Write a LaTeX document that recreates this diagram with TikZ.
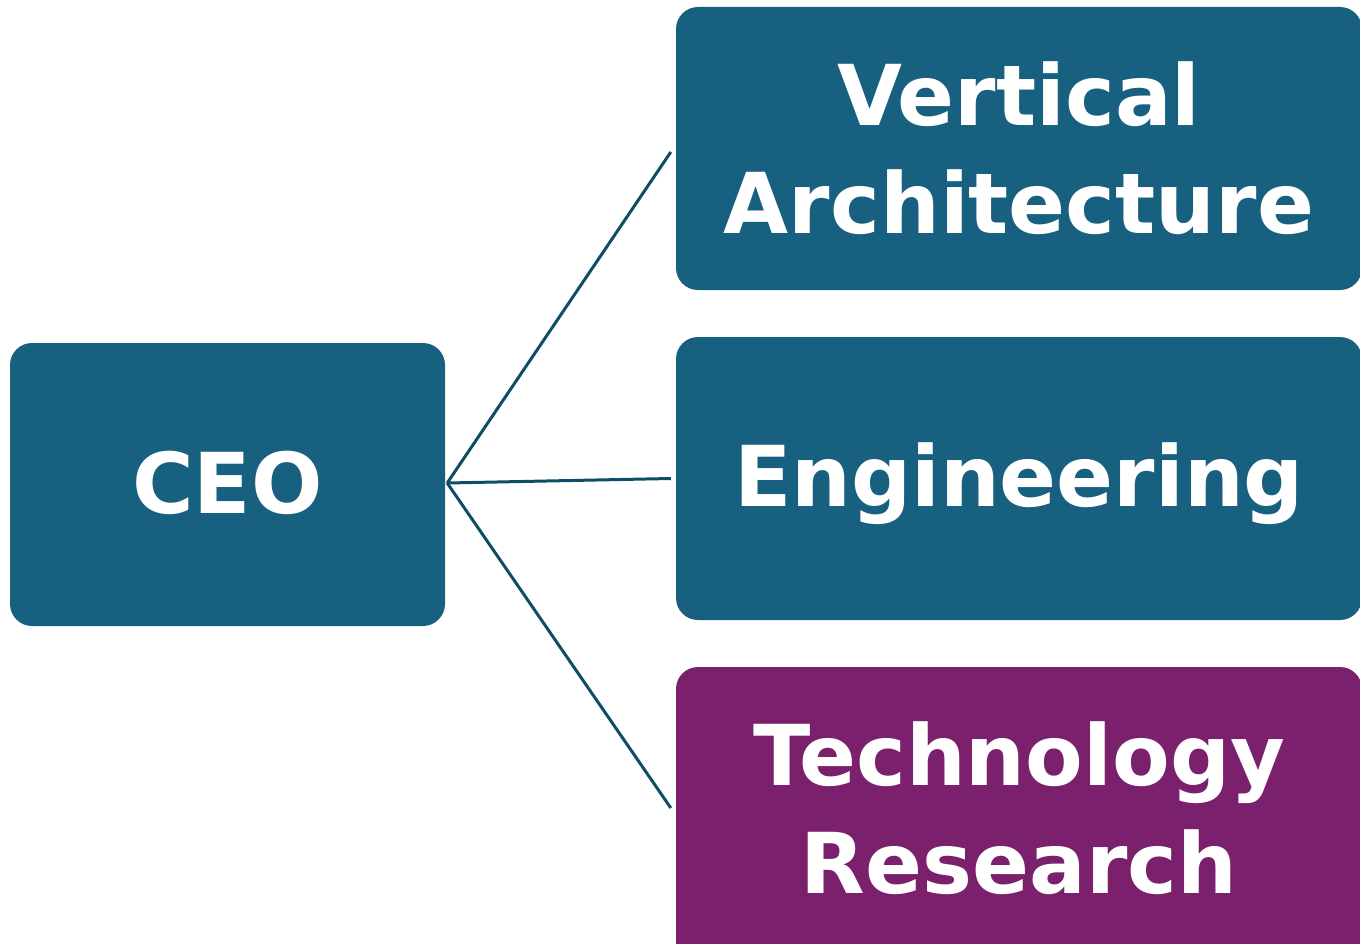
\documentclass[tikz,border=0pt]{standalone}
\usepackage{fontspec}
\setmainfont{DejaVu Sans}
\definecolor{boxblue}{RGB}{24,96,128}
\definecolor{boxpurple}{RGB}{122,32,108}
\definecolor{linecol}{RGB}{15,76,104}
\begin{document}
\begin{tikzpicture}[x=1pt,y=-1pt,
  boxtext/.style={text=white, font=\fontsize{84}{108}\selectfont\bfseries, align=center, inner sep=0pt},
  orgbox/.style={rounded corners=22pt, fill=boxblue, draw=none, boxtext},
  conn/.style={draw=linecol, line width=3pt}]
\useasboundingbox (0,0) rectangle (1360,944);
\node[orgbox, minimum width=435pt, minimum height=283pt,
  label={[boxtext, yshift=2pt]center:CEO}] (ceo) at (227.5,484.5) {};
\node[orgbox, minimum width=686pt, minimum height=283pt] (va) at (1019,148.5) {Vertical\\Architecture};
\node[orgbox, minimum width=686pt, minimum height=283pt,
  label={[boxtext, yshift=-5pt]center:Engineering}] (eng) at (1019,478.5) {};
\node[orgbox, fill=boxpurple, minimum width=686pt, minimum height=300pt,
  label={[boxtext, yshift=9pt]center:{Technology\\Research}}] (tr) at (1019,817) {};
\draw[conn] ([xshift=2pt,yshift=1.5pt]ceo.east) -- ([xshift=-5pt,yshift=-3.5pt]va.west);
\draw[conn] ([xshift=2pt,yshift=1.5pt]ceo.east) -- ([xshift=-5pt]eng.west);
\draw[conn] ([xshift=2pt,yshift=1.5pt]ceo.east) -- ([xshift=-5pt,yshift=9pt]tr.west);
\end{tikzpicture}
\end{document}
